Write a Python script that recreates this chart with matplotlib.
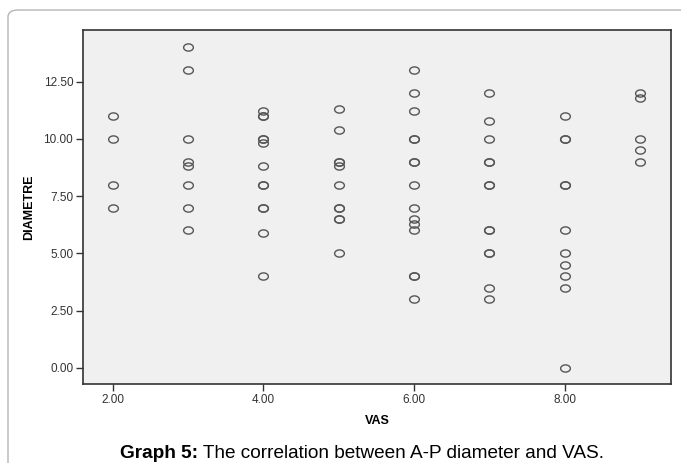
import matplotlib
matplotlib.use('Agg')
import matplotlib.pyplot as plt
import numpy as np
from matplotlib.patches import FancyBboxPatch
from matplotlib.path import Path

plt.rcParams['font.family'] = ['Liberation Sans', 'DejaVu Sans']

# ── data ──
vas_levels = [2, 3, 4, 5, 6, 7, 8, 9]
diam_2 = [11, 10, 8, 7]
diam_3 = [14, 13, 10, 9, 8.8, 8, 7, 6]
diam_4 = [11.2, 11, 11, 10, 10, 9.8, 8.8, 8, 8, 7, 7, 5.9, 4]
diam_5 = [11.3, 10.4, 9, 9, 8.8, 8, 7, 7, 6.5, 6.5, 5]
diam_6 = [13, 12, 11.2, 10, 10, 9, 9, 8, 7, 6.5, 6.3, 6, 4, 4, 3]
diam_7 = [12, 10.8, 10, 9, 9, 8, 8, 6, 6, 5, 5, 3.5, 3]
diam_8 = [11, 10, 10, 8, 8, 6, 5, 4.5, 4, 3.5, 0]
diam_9 = [12, 11.8, 10, 9.5, 9]
diam_groups = [diam_2, diam_3, diam_4, diam_5, diam_6, diam_7, diam_8, diam_9]

x_ticks = [2, 4, 6, 8]
y_ticks = [0, 2.5, 5, 7.5, 10, 12.5]

W, H = 681, 463
fig = plt.figure(figsize=(W / 100, H / 100), dpi=100)

# rounded outer frame (runs off the right and bottom edges)
frame = FancyBboxPatch((8 / W, -0.1), 1.2, 1 - 10 / H + 0.1,
                       boxstyle="round,pad=0,rounding_size=0.015",
                       transform=fig.transFigure, fill=False,
                       edgecolor='#b5b5b5', linewidth=1.0, clip_on=False)
fig.patches.append(frame)

ax = fig.add_axes([83 / W, 1 - 384 / H, (671 - 83) / W, (384 - 30) / H])
ax.set_facecolor('#f0f0f0')

# slightly wide ellipse marker, as in the source
th = np.linspace(0, 2 * np.pi, 40)
ellipse = Path(np.column_stack([1.35 * np.cos(th), np.sin(th)]), closed=True)

for v, vals in zip(vas_levels, diam_groups):
    ax.plot([v] * len(vals), vals, linestyle='none', marker=ellipse,
            markersize=7, markerfacecolor='none',
            markeredgecolor='#555555', markeredgewidth=1.0)

ax.set_xlim(1.606, 9.41)
ax.set_ylim(-0.71, 14.76)
ax.set_xticks(x_ticks)
ax.set_xticklabels([f'{t:.2f}' for t in x_ticks])
ax.set_yticks(y_ticks)
ax.set_yticklabels([f'{t:.2f}' for t in y_ticks])
ax.tick_params(direction='out', length=5, width=1, color='#333333',
               labelsize=8.5, labelcolor='#333333', pad=2)

for s in ax.spines.values():
    s.set_color('#333333')
    s.set_linewidth(1.2)

ax.set_xlabel('VAS', fontsize=9, fontweight='bold', labelpad=7)
ax.set_ylabel('DIAMETRE', fontsize=9, fontweight='bold', labelpad=6)

# caption with bold prefix
t1 = fig.text(120 / W, 1 - 458 / H, 'Graph 5:', fontsize=13.7,
              fontweight='bold', ha='left', va='baseline')
fig.canvas.draw()
ax.annotate(' The correlation between A-P diameter and VAS.',
            xy=(1, 0), xycoords=t1, xytext=(0, 0), textcoords='offset points',
            fontsize=13.7, ha='left', va='bottom', annotation_clip=False)

plt.savefig('out.png', dpi=100)
